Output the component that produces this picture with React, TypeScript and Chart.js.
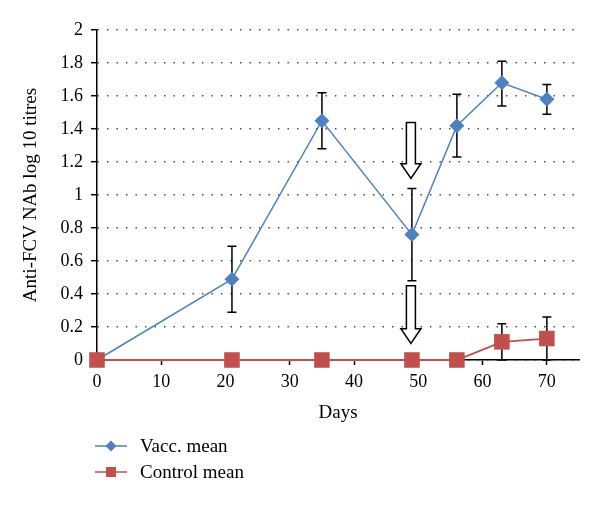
import React, { useEffect, useRef } from 'react';
import { Chart, registerables } from 'chart.js';

Chart.register(...registerables);

// ---- Data ----
const days = [0, 21, 35, 49, 56, 63, 70];
const vaccMean = [0, 0.49, 1.45, 0.76, 1.42, 1.68, 1.58];
const vaccLow = [null, 0.29, 1.28, 0.48, 1.23, 1.54, 1.49];
const vaccHigh = [null, 0.69, 1.62, 1.04, 1.61, 1.81, 1.67];
const controlMean = [0, 0, 0, 0, 0, 0.11, 0.13];
const controlLow = [null, null, null, null, null, 0, 0];
const controlHigh = [null, null, null, null, null, 0.22, 0.26];

const xTickValues = [0, 10, 20, 30, 40, 50, 60, 70];
const yTickValues = [0, 0.2, 0.4, 0.6, 0.8, 1, 1.2, 1.4, 1.6, 1.8, 2];

// Arrow annotations (boost days): x, shaft top, head base, tip (data units)
const arrowDays = [49, 49];
const arrowTops = [1.44, 0.45];
const arrowHeadBases = [1.19, 0.19];
const arrowTips = [1.1, 0.1];

const seriesLabels = ['Vacc. mean', 'Control mean'];
const xTitle = 'Days';
const yTitle = 'Anti-FCV NAb log 10 titres';

const BLUE = '#4F81BD';
const RED = '#C0504D';
const FONT_FAMILY = '"Liberation Serif", "Times New Roman", serif';

const errorBarPlugin = {
  id: 'errorBars',
  beforeDatasetsDraw(chart: any) {
    const { ctx, scales } = chart;
    const xs = scales.x;
    const ys = scales.y;
    const sets = [
      { low: vaccLow, high: vaccHigh },
      { low: controlLow, high: controlHigh },
    ];
    ctx.save();
    ctx.strokeStyle = '#000';
    ctx.lineWidth = 1.5;
    sets.forEach((s) => {
      days.forEach((d, i) => {
        const lo = s.low[i];
        const hi = s.high[i];
        if (lo === null || hi === null) return;
        const px = xs.getPixelForValue(d);
        const pl = ys.getPixelForValue(lo);
        const ph = ys.getPixelForValue(hi);
        ctx.beginPath();
        ctx.moveTo(px, pl);
        ctx.lineTo(px, ph);
        ctx.moveTo(px - 4.5, pl);
        ctx.lineTo(px + 4.5, pl);
        ctx.moveTo(px - 4.5, ph);
        ctx.lineTo(px + 4.5, ph);
        ctx.stroke();
      });
    });
    ctx.restore();
  },
};

const arrowPlugin = {
  id: 'arrows',
  afterDatasetsDraw(chart: any) {
    const { ctx, scales } = chart;
    const xs = scales.x;
    const ys = scales.y;
    ctx.save();
    ctx.strokeStyle = '#000';
    ctx.fillStyle = '#fff';
    ctx.lineWidth = 1.5;
    arrowDays.forEach((d, i) => {
      const cx = xs.getPixelForValue(d) - 1;
      const top = ys.getPixelForValue(arrowTops[i]);
      const base = ys.getPixelForValue(arrowHeadBases[i]);
      const tip = ys.getPixelForValue(arrowTips[i]);
      const sw = 4.5;
      const hw = 10;
      ctx.beginPath();
      ctx.moveTo(cx - sw, top);
      ctx.lineTo(cx + sw, top);
      ctx.lineTo(cx + sw, base);
      ctx.lineTo(cx + hw, base);
      ctx.lineTo(cx, tip);
      ctx.lineTo(cx - hw, base);
      ctx.lineTo(cx - sw, base);
      ctx.closePath();
      ctx.fill();
      ctx.stroke();
    });
    ctx.restore();
  },
};

const legendPlugin = {
  id: 'customLegend',
  afterDraw(chart: any) {
    const ctx = chart.ctx;
    const colors = [BLUE, RED];
    ctx.save();
    seriesLabels.forEach((label, i) => {
      const y = 446 + i * 26;
      ctx.strokeStyle = colors[i];
      ctx.fillStyle = colors[i];
      ctx.lineWidth = 1.5;
      ctx.beginPath();
      ctx.moveTo(95, y);
      ctx.lineTo(127, y);
      ctx.stroke();
      ctx.beginPath();
      if (i === 0) {
        ctx.moveTo(111, y - 5.5);
        ctx.lineTo(116.5, y);
        ctx.lineTo(111, y + 5.5);
        ctx.lineTo(105.5, y);
        ctx.closePath();
      } else {
        ctx.rect(106, y - 5, 10, 10);
      }
      ctx.fill();
      ctx.fillStyle = '#000';
      ctx.font = `19px ${FONT_FAMILY}`;
      ctx.textBaseline = 'middle';
      ctx.textAlign = 'left';
      ctx.fillText(label, 140, y + 1);
    });
    ctx.restore();
  },
};

export default function App() {
  const canvasRef = useRef<HTMLCanvasElement>(null);

  useEffect(() => {
    if (!canvasRef.current) return;
    const font = { family: FONT_FAMILY, size: 18 };
    const titleFont = { family: FONT_FAMILY, size: 19 };
    const chart = new Chart(canvasRef.current, {
      type: 'line',
      data: {
        datasets: [
          {
            label: seriesLabels[0],
            data: days.map((d, i) => ({ x: d, y: vaccMean[i] })),
            borderColor: BLUE,
            backgroundColor: BLUE,
            borderWidth: 1.5,
            pointStyle: 'rectRot',
            pointRadius: 7.5,
            pointBorderWidth: 0,
            pointBackgroundColor: BLUE,
            tension: 0,
            clip: false,
            order: 2,
          },
          {
            label: seriesLabels[1],
            data: days.map((d, i) => ({ x: d, y: controlMean[i] })),
            borderColor: RED,
            backgroundColor: RED,
            borderWidth: 1.8,
            pointStyle: 'rect',
            pointRadius: 11,
            pointBorderWidth: 0,
            pointBackgroundColor: RED,
            tension: 0,
            clip: false,
            order: 1,
          },
        ],
      },
      options: {
        animation: false,
        responsive: false,
        events: [],
        layout: { padding: { left: 0, right: 21, top: 30, bottom: 0 } },
        plugins: {
          legend: { display: false },
          tooltip: { enabled: false },
        },
        scales: {
          x: {
            type: 'linear',
            min: 0,
            max: 75,
            afterBuildTicks: (s: any) => {
              s.ticks = xTickValues.map((v) => ({ value: v }));
            },
            afterFit: (s: any) => {
              s.height = 145;
            },
            ticks: {
              font,
              color: '#000',
              padding: 6,
              maxRotation: 0,
              autoSkip: false,
              callback: (v: any) => String(v),
            },
            grid: {
              display: true,
              drawOnChartArea: false,
              drawTicks: true,
              tickLength: 5,
              tickColor: '#000',
              tickWidth: 1.5,
            },
            border: { display: true, color: '#000', width: 1.5 },
            title: {
              display: true,
              text: xTitle,
              font: titleFont,
              color: '#000',
              padding: { top: 0, bottom: 81 },
            },
          },
          y: {
            type: 'linear',
            min: 0,
            max: 2,
            afterBuildTicks: (s: any) => {
              s.ticks = yTickValues.map((v) => ({ value: v }));
            },
            afterFit: (s: any) => {
              s.width = 97;
            },
            ticks: {
              font,
              color: '#000',
              padding: 8,
              autoSkip: false,
              callback: (v: any) => String(Math.round(v * 10) / 10),
            },
            grid: {
              display: true,
              color: '#444',
              lineWidth: 1.4,
              drawTicks: true,
              tickLength: 6,
              tickColor: '#000',
              tickWidth: 1.5,
              tickBorderDash: [],
            },
            border: { display: true, color: '#000', width: 1.5, dash: [1.4, 8.1] },
            title: {
              display: true,
              text: yTitle,
              font: titleFont,
              color: '#000',
              padding: { top: 20, bottom: 0 },
            },
          },
        },
      },
      plugins: [errorBarPlugin, arrowPlugin, legendPlugin],
    } as any);
    return () => chart.destroy();
  }, []);

  return (
    <div style={{ position: 'fixed', left: 0, top: 0, width: 600, height: 505, background: '#fff' }}>
      <canvas ref={canvasRef} width={600} height={505} style={{ width: 600, height: 505 }} />
    </div>
  );
}
